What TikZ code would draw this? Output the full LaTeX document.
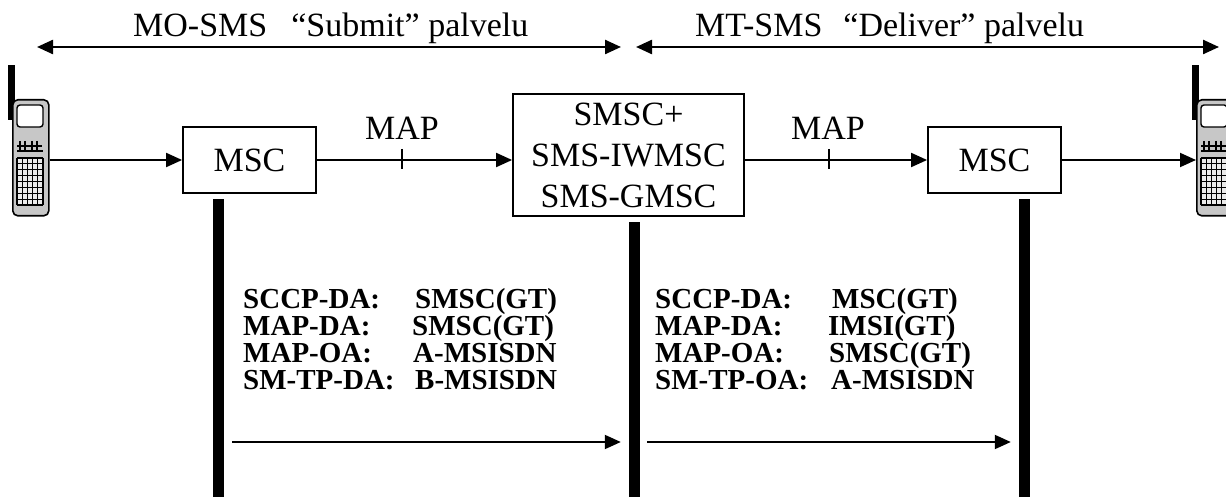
\documentclass[tikz,border=0pt]{standalone}
\usepackage{fontspec}
\setmainfont{Liberation Serif}
\usetikzlibrary{arrows.meta}
\begin{document}
\begin{tikzpicture}[x=1pt,y=-1pt,
  arr/.style={line width=1.9pt,-{Triangle[length=16pt,width=14pt]}},
  toparr/.style={line width=2.4pt,{Triangle[length=16pt,width=14pt]}-{Triangle[length=16pt,width=14pt]}},
  box/.style={draw,line width=1.8pt,inner sep=0pt,font=\fontsize{34}{41}\selectfont},
  bar/.style={fill=black,draw=none,minimum width=11pt,inner sep=0pt,anchor=north},
  big/.style={inner sep=0pt,font=\fontsize{34}{41}\selectfont},
  lab/.style={inner sep=0pt,anchor=base west,font=\fontsize{29}{29}\selectfont\bfseries},
  tick/.style={line width=1.5pt},
  phone/.pic={
    \fill[black] (-4,-34) rectangle (3,21);
    \node[draw,line width=1.6pt,fill=black!22,rounded corners=5pt,minimum width=36pt,minimum height=116pt,inner sep=0pt,anchor=north west] (-body) at (0,0) {};
    \draw[line width=1.4pt,fill=white,rounded corners=3pt] (5,6) rectangle (31,28);
    \draw[line width=1.1pt] (5,47) -- (30,47);
    \draw[line width=1.6pt] (5,52) -- (31,52);
    \foreach \xx in {8,13,20,25} \draw[line width=1.1pt] (\xx,42) -- (\xx,52);
    \fill[black!8] (5,59) rectangle (31,106);
    \foreach \xx in {5,10.2,15.4,20.6,25.8,31} \draw[line width=1.2pt] (\xx,59) -- (\xx,106);
    \foreach \yy in {59,64.875,70.75,76.625,82.5,88.375,94.25,100.125,106} \draw[line width=1.2pt] (5,\yy) -- (31,\yy);
  }
]
\useasboundingbox (0,0) rectangle (1226,497);
\clip (0,0) rectangle (1226,497);

% top service arrows
\coordinate (t1l) at (37,47);
\coordinate (t1r) at (621,47);
\coordinate (t2l) at (636,47);
\coordinate (t2r) at (1219,47);
\draw[toparr] (t1l) -- (t1r);
\draw[toparr] (t2l) -- (t2r);
\node[big,anchor=base west] (mo) at (133,37) {MO-SMS\hspace{24pt}“Submit” palvelu};
\node[big,anchor=base west] (mt) at (695,37) {MT-SMS\hspace{21pt}“Deliver” palvelu};

% phones
\pic (p1) at (12,99) {phone};
\pic (p2) at (1196,99) {phone};

% boxes
\node[box,minimum width=133pt,minimum height=66pt] (msc1) at (249.5,160) {MSC};
\node[box,minimum width=231pt,minimum height=122pt,align=center] (smsc) at (628.5,155) {SMSC+\\SMS-IWMSC\\SMS-GMSC};
\node[box,minimum width=133pt,minimum height=66pt] (msc2) at (994.5,160) {MSC};

% horizontal connectors
\draw[arr] (p1-body.east |- msc1.west) -- (msc1.west);
\draw[arr] (msc1.east) -- (msc1.east -| smsc.west);
\draw[arr] (msc2.west -| smsc.east) -- (msc2.west);
\draw[arr] (msc2.east) -- (msc2.east -| p2-body.west);

% MAP labels and ticks
\coordinate (m1) at (402,159);
\coordinate (m2) at (829,159);
\draw[tick] ([yshift=10pt]m1) -- ([yshift=-10pt]m1);
\draw[tick] ([yshift=10pt]m2) -- ([yshift=-10pt]m2);
\node[big,anchor=base] (map1) at (402,140) {MAP};
\node[big,anchor=base] (map2) at (828,140) {MAP};

% vertical bars
\node[bar,minimum height=298pt] (b1) at (218.5,199) {};
\node[bar,minimum height=275pt] (b2) at (634.5,222) {};
\node[bar,minimum height=298pt] (b3) at (1024.5,199) {};

% bottom arrows
\draw[arr,shorten <=8pt,shorten >=8pt] (b1.east |- 0,442) -- (b2.west |- 0,442);
\draw[arr,shorten <=7pt,shorten >=8pt] (b2.east |- 0,442) -- (b3.west |- 0,442);

% addressing info, block 1
\node[lab] (a1) at (243,308) {SCCP-DA:};
\node[lab] (a2) at (243,335) {MAP-DA:};
\node[lab] (a3) at (243,362) {MAP-OA:};
\node[lab] (a4) at (243,389) {SM-TP-DA:};
\node[lab] (v1) at (415,308) {SMSC(GT)};
\node[lab] (v2) at (412,335) {SMSC(GT)};
\node[lab] (v3) at (413,362) {A-MSISDN};
\node[lab] (v4) at (415,389) {B-MSISDN};

% addressing info, block 2
\node[lab] (c1) at (655,308) {SCCP-DA:};
\node[lab] (c2) at (655,335) {MAP-DA:};
\node[lab] (c3) at (655,362) {MAP-OA:};
\node[lab] (c4) at (655,389) {SM-TP-OA:};
\node[lab] (w1) at (832,308) {MSC(GT)};
\node[lab] (w2) at (828,335) {IMSI(GT)};
\node[lab] (w3) at (829,362) {SMSC(GT)};
\node[lab] (w4) at (831,389) {A-MSISDN};
\end{tikzpicture}
\end{document}
